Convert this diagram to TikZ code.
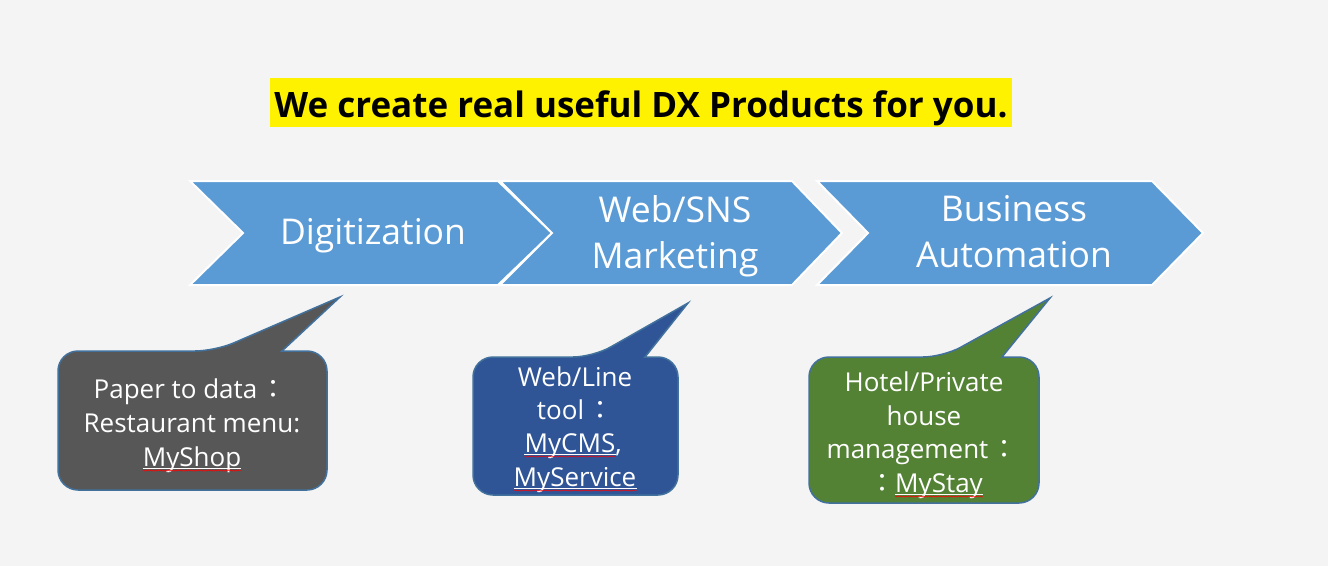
\documentclass[tikz,border=0pt]{standalone}
\usepackage{fontspec}
\setmainfont{Open Sans}
\newfontfamily\cjk{Noto Sans CJK JP}
\usetikzlibrary{decorations.pathmorphing}

\definecolor{pagebg}{HTML}{F4F4F4}
\definecolor{chevblue}{HTML}{5B9BD5}
\definecolor{bubbleedge}{HTML}{41719C}
\definecolor{shopgray}{HTML}{575757}
\definecolor{cmsblue}{HTML}{2F5597}
\definecolor{staygreen}{HTML}{548235}

% full-width colon
\newcommand{\fwcolon}{{\cjk ：}}

\begin{document}
\begin{tikzpicture}[x=1pt, y=-1pt,
    chevron/.style={fill=chevblue, draw=white, line width=2pt},
    chevtext/.style={text=white, align=center, inner sep=0pt,
      font=\fontsize{35.5}{46}\selectfont},
    bubble/.style={draw=bubbleedge, line width=1.5pt},
    bubbletext/.style={text=white, inner sep=0pt, anchor=base,
      font=\fontsize{26}{34}\selectfont},
    uline/.style={draw=white, line width=1pt},
    spell/.style={draw=red, line width=0.5pt, decorate,
      decoration={snake, amplitude=0.6pt, segment length=2.5pt}}]

  % page
  \fill[pagebg] (0,0) rectangle (1328,566);
  \useasboundingbox (0,0) rectangle (1328,566);

  % heading
  \node[fill=yellow, minimum width=742pt, inner sep=0pt,
    text height=39pt, text depth=10pt, anchor=north,
    font=\bfseries\fontsize{35}{40}\selectfont] (title) at (641,78)
    {We create real useful DX Products for you.};

  % the three chevrons: left x / notch x / right x / tip x
  \foreach \lx/\nx/\rx/\tx in {190/243/498/552, 500/552/792/842, 817/868/1152/1203} {
    \draw[chevron] (\lx,181) -- (\rx,181) -- (\tx,233) -- (\rx,285)
      -- (\lx,285) -- (\nx,233) -- cycle;
  }
  \node[chevtext, anchor=base] (digit) at (373,244) {Digitization};
  \node[chevtext] (market) at (675,236) {Web/SNS\\Marketing};
  \node[chevtext] (autom) at (1014,232) {Business\\Automation};

  % speech bubbles: left / top / right / bottom / pointer base a, b / tip x, y / colour
  \foreach \bx/\by/\ex/\ey/\pa/\pb/\px/\py/\col in
    {58/351/327/490/215/282/340/297/shopgray,
     473/357/678/495/593/645/688/303/cmsblue,
     809/357/1039/503/943/1002/1050/298/staygreen} {
    \draw[bubble, fill=\col] (\bx,{(\by+\ey)/2}) [rounded corners=20pt]
      -- (\bx,\by) -- (\pa,\by) [sharp corners] -- (\px,\py) -- (\pb,\by)
      [rounded corners=20pt] -- (\ex,\by) -- (\ex,\ey) -- (\bx,\ey) -- cycle;
  }

  % bubble texts
  \node[bubbletext] (shop1) at (190,398) {Paper to data\hspace{3pt}\fwcolon};
  \node[bubbletext] (shop2) at (192,432) {Restaurant menu:};
  \node[bubbletext] (shopname) at (192,466) {MyShop};

  \node[bubbletext] (cms1) at (575,386) {Web/Line};
  \node[bubbletext] (cms2) at (575,419) {tool\hspace{3pt}\fwcolon};
  \node[bubbletext] (cmsname) at (570,452) {MyCMS\rlap{,}};
  \node[bubbletext] (svcname) at (575,486) {MyService};

  \node[bubbletext] (stay1) at (924,391) {Hotel/Private};
  \node[bubbletext] (stay2) at (924,425) {house};
  \node[bubbletext] (stay3) at (922,458) {management\hspace{3pt}\fwcolon};
  \node[bubbletext] (stayname) at (939,492) {\llap{\fwcolon}MyStay};

  % underlined product names with the spell-check marks
  \foreach \w in {shopname, cmsname, svcname, stayname} {
    \draw[uline] ([yshift=-2pt]\w.base west) -- ([yshift=-2pt]\w.base east);
    \draw[spell] ([yshift=-4.5pt]\w.base west) -- ([yshift=-4.5pt]\w.base east);
  }
\end{tikzpicture}
\end{document}
